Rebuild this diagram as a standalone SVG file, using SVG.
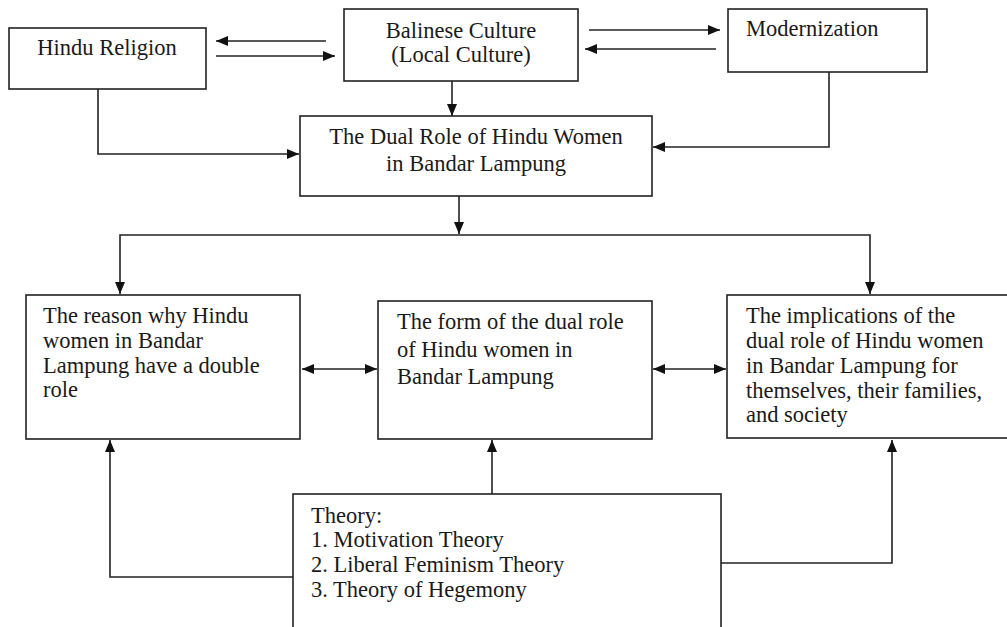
<svg xmlns="http://www.w3.org/2000/svg" width="1007" height="627" viewBox="0 0 1007 627">
<style>
.box{fill:#fff;stroke:#222;stroke-width:1.6}
.t{font-family:"Liberation Serif","Times New Roman",serif;font-size:22.5px;fill:#1a1a1a}
.c{text-anchor:middle}
.ln{fill:none;stroke:#222;stroke-width:1.6}
</style>
<defs>
<marker id="ah" viewBox="0 0 12 10" refX="12" refY="5" markerWidth="12" markerHeight="10" markerUnits="userSpaceOnUse" orient="auto-start-reverse">
<path d="M0,0 L12,5 L0,10 z" fill="#111"/>
</marker>
</defs>
<rect width="1007" height="627" fill="#fff"/>
<g id="connectors">
<line class="ln" x1="326" y1="41" x2="216" y2="41" marker-end="url(#ah)"/>
<line class="ln" x1="216" y1="56" x2="335" y2="56" marker-end="url(#ah)"/>
<line class="ln" x1="589" y1="30" x2="720" y2="30" marker-end="url(#ah)"/>
<line class="ln" x1="716" y1="49" x2="585" y2="49" marker-end="url(#ah)"/>
<line class="ln" x1="452" y1="81" x2="452" y2="116" marker-end="url(#ah)"/>
<polyline class="ln" points="98,89 98,154 299,154" marker-end="url(#ah)"/>
<polyline class="ln" points="829,72 829,147 653,147" marker-end="url(#ah)"/>
<line class="ln" x1="459" y1="196" x2="459" y2="234" marker-end="url(#ah)"/>
<polyline class="ln" points="459,235 120,235 120,294" marker-end="url(#ah)"/>
<polyline class="ln" points="459,235 870,235 870,294" marker-end="url(#ah)"/>
<line class="ln" x1="302" y1="369" x2="377" y2="369" marker-start="url(#ah)" marker-end="url(#ah)"/>
<line class="ln" x1="653" y1="369" x2="726" y2="369" marker-start="url(#ah)" marker-end="url(#ah)"/>
<polyline class="ln" points="293,577 110,577 110,440" marker-end="url(#ah)"/>
<line class="ln" x1="492" y1="494" x2="492" y2="440" marker-end="url(#ah)"/>
<polyline class="ln" points="721,563 892,563 892,440" marker-end="url(#ah)"/>
</g>
<g id="hindu-religion">
<rect class="box" x="9" y="28" width="197" height="61"/>
<text class="t c" x="107" y="55">Hindu Religion</text>
</g>
<g id="balinese-culture">
<rect class="box" x="344" y="9" width="234" height="72"/>
<text class="t c" x="461" y="38">Balinese Culture</text>
<text class="t c" x="461" y="62">(Local Culture)</text>
</g>
<g id="modernization">
<rect class="box" x="728" y="9" width="199" height="63"/>
<text class="t" x="746" y="36">Modernization</text>
</g>
<g id="dual-role">
<rect class="box" x="300" y="116" width="352" height="80"/>
<text class="t c" x="476" y="144">The Dual Role of Hindu Women</text>
<text class="t c" x="476" y="171">in Bandar Lampung</text>
</g>
<g id="reason">
<rect class="box" x="26" y="295" width="274" height="144"/>
<text class="t" x="43" y="323">The reason why Hindu</text>
<text class="t" x="43" y="348">women in Bandar</text>
<text class="t" x="43" y="373">Lampung have a double</text>
<text class="t" x="43" y="397">role</text>
</g>
<g id="form">
<rect class="box" x="378" y="301" width="274" height="138"/>
<text class="t" x="397" y="329">The form of the dual role</text>
<text class="t" x="397" y="357">of Hindu women in</text>
<text class="t" x="397" y="384">Bandar Lampung</text>
</g>
<g id="implications">
<rect class="box" x="727" y="295" width="300" height="143"/>
<text class="t" x="746" y="323">The implications of the</text>
<text class="t" x="746" y="348">dual role of Hindu women</text>
<text class="t" x="746" y="373">in Bandar Lampung for</text>
<text class="t" x="746" y="398">themselves, their families,</text>
<text class="t" x="746" y="422">and society</text>
</g>
<g id="theory">
<rect class="box" x="293" y="494" width="428" height="160"/>
<text class="t" x="311" y="523">Theory:</text>
<text class="t" x="311" y="547">1. Motivation Theory</text>
<text class="t" x="311" y="572">2. Liberal Feminism Theory</text>
<text class="t" x="311" y="597">3. Theory of Hegemony</text>
</g>
</svg>
